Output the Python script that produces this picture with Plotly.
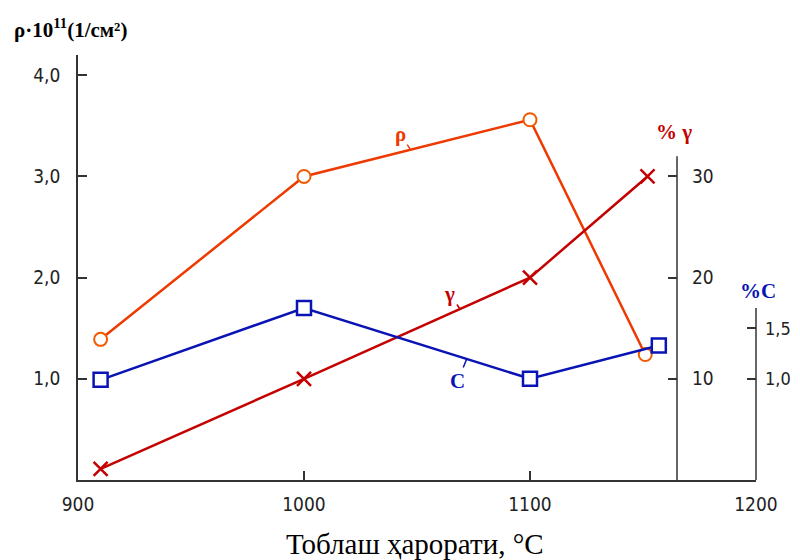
import plotly.graph_objects as go

# Data
temp_rho = [910, 1000, 1100, 1151]
rho = [1.39, 3.0, 3.56, 1.24]

temp_gamma = [910, 1000, 1100, 1152]
gamma = [1.1, 10, 20, 30]

temp_c = [910, 1000, 1100, 1157]
carbon = [0.99, 1.70, 1.0, 1.33]

x_ticks = [900, 1000, 1100, 1200]
rho_ticks = [1.0, 2.0, 3.0, 4.0]
rho_ticktext = ["1,0", "2,0", "3,0", "4,0"]
gamma_ticks = [10, 20, 30]
c_ticks = [1.0, 1.5]
c_ticktext = ["1,0", "1,5"]

RHO_C = "#ee3a00"
GAM_C = "#c40000"
CAR_C = "#0a14b4"
AX_C = "#333333"
TICKFONT = dict(family="DejaVu Sans Condensed, DejaVu Sans", size=19, color="#222222")
CTICKFONT = dict(family="DejaVu Sans Condensed, DejaVu Sans", size=18, color="#222222")
SERIF = "Liberation Serif, Times New Roman, serif"
GAM_POS = 0.8835

fig = go.Figure()
fig.add_trace(go.Scatter(x=temp_rho, y=rho, mode="lines+markers", yaxis="y",
                         line=dict(color=RHO_C, width=2.5),
                         marker=dict(symbol="circle", size=13, color="white",
                                     line=dict(color="#f05a00", width=2)),
                         cliponaxis=False, showlegend=False))
fig.add_trace(go.Scatter(x=temp_gamma, y=gamma, mode="lines+markers", yaxis="y2",
                         line=dict(color=GAM_C, width=2.5),
                         marker=dict(symbol="x-thin", size=14, color=GAM_C,
                                     line=dict(color=GAM_C, width=2.5)),
                         cliponaxis=False, showlegend=False))
fig.add_trace(go.Scatter(x=temp_c, y=carbon, mode="lines+markers", yaxis="y3",
                         line=dict(color=CAR_C, width=2.5),
                         marker=dict(symbol="square", size=14, color="white",
                                     line=dict(color=CAR_C, width=2.5)),
                         cliponaxis=False, showlegend=False))

fig.update_layout(
    width=792, height=552,
    margin=dict(l=70, r=44, t=47, b=80, autoexpand=False),
    paper_bgcolor="white", plot_bgcolor="white",
    xaxis=dict(range=[900, 1200], tickvals=x_ticks, ticks="inside", ticklen=9,
               tickcolor=AX_C, tickwidth=1.5, showline=True, linecolor=AX_C,
               linewidth=1.5, showgrid=False, zeroline=False, tickfont=TICKFONT,
               ticklabelstandoff=6, automargin=False),
    yaxis=dict(range=[0, 4.2], tickvals=rho_ticks, ticktext=rho_ticktext,
               ticks="inside", ticklen=9, tickcolor=AX_C, tickwidth=1.5,
               showline=True, linecolor=AX_C, linewidth=1.5, showgrid=False,
               zeroline=False, tickfont=TICKFONT, ticklabelstandoff=12,
               automargin=False),
    yaxis2=dict(range=[0, 42], overlaying="y", anchor="free", position=GAM_POS,
                side="right", tickvals=gamma_ticks, ticks="inside", ticklen=9,
                tickcolor=AX_C, tickwidth=1.5, showline=False, showgrid=False,
                zeroline=False, tickfont=TICKFONT, ticklabelstandoff=14,
                automargin=False),
    yaxis3=dict(range=[0, 4.2], overlaying="y", anchor="free", position=1.0,
                side="right", tickvals=c_ticks, ticktext=c_ticktext, ticks="inside",
                ticklen=9, tickcolor=AX_C, tickwidth=1.5, showline=False,
                showgrid=False, zeroline=False, tickfont=CTICKFONT, ticklabelstandoff=8,
                automargin=False),
)

# Right axis lines with limited extent
fig.add_shape(type="line", xref="paper", yref="y2", x0=GAM_POS, x1=GAM_POS, y0=0, y1=32,
              line=dict(color=AX_C, width=1.5))
fig.add_shape(type="line", xref="paper", yref="y3", x0=1.0, x1=1.0, y0=0, y1=1.7,
              line=dict(color=AX_C, width=1.5))

# Axis titles
fig.add_annotation(xref="paper", yref="paper", x=-0.097, y=1.0, yshift=42,
                   xanchor="left", yanchor="top", showarrow=False,
                   text="<b>ρ·10<sup>11</sup>(1/см²)</b>",
                   font=dict(family=SERIF, size=21, color="black"))
fig.add_annotation(xref="paper", yref="y2", x=GAM_POS - 0.005, y=32, yshift=24,
                   xanchor="center", showarrow=False, text="<b>% γ</b>",
                   font=dict(family=SERIF, size=21, color=GAM_C))
fig.add_annotation(xref="paper", yref="y3", x=1.003, y=1.7, yshift=17,
                   xanchor="center", showarrow=False, text="<b>%C</b>",
                   font=dict(family=SERIF, size=21, color=CAR_C))
fig.add_annotation(xref="paper", yref="paper", x=0.497, y=0, yshift=-64,
                   xanchor="center", yanchor="middle", showarrow=False,
                   text="Тоблаш ҳарорати, °С",
                   font=dict(family=SERIF, size=29, color="black"))

# Curve labels with small leader ticks
fig.add_annotation(x=1047, y=3.27, xref="x", yref="y", text="<b>ρ</b>",
                   showarrow=True, arrowhead=0, arrowwidth=1.5, arrowcolor=RHO_C,
                   ax=-10, ay=-15, font=dict(family=SERIF, size=21, color=RHO_C))
fig.add_annotation(x=1069, y=16.9, xref="x", yref="y2", text="<b>γ</b>",
                   showarrow=True, arrowhead=0, arrowwidth=1.5, arrowcolor=GAM_C,
                   ax=-10, ay=-15, font=dict(family=SERIF, size=21, color=GAM_C))
fig.add_annotation(x=1072, y=1.196, xref="x", yref="y3", text="<b>C</b>",
                   showarrow=True, arrowhead=0, arrowwidth=1.5, arrowcolor=CAR_C,
                   ax=-9, ay=22, font=dict(family=SERIF, size=21, color=CAR_C))

fig.write_html("out.html")
